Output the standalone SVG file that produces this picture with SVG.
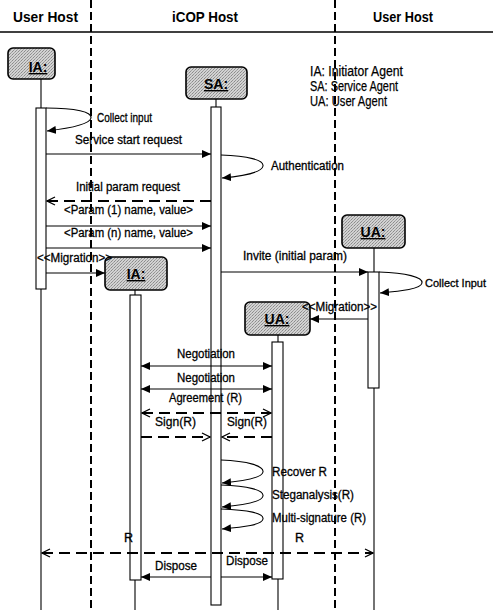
<svg xmlns="http://www.w3.org/2000/svg" width="493" height="610" viewBox="0 0 493 610">
<style>
text{font-family:"Liberation Sans",Arial,sans-serif;fill:#000}
.hd{font-size:15px;font-weight:bold}
.lg{font-size:14px;stroke:#000;stroke-width:0.25}
.m{font-size:12.5px;stroke:#000;stroke-width:0.3}
.bl{font-size:14px;font-weight:bold;text-decoration:underline;text-anchor:middle}
.box{fill:url(#ht);stroke:#000;stroke-width:1.6}
.act{fill:#fff;stroke:#000;stroke-width:1.1}
.life{stroke:#000;stroke-width:1.1;fill:none}
.lane{stroke:#000;stroke-width:2;stroke-dasharray:8 4;fill:none}
.msg{stroke:#000;stroke-width:1.1;fill:none;marker-end:url(#fa)}
.bi{stroke:#000;stroke-width:1.1;fill:none;marker-start:url(#fa);marker-end:url(#fa)}
.ret{stroke:#000;stroke-width:1.8;stroke-dasharray:11 6;fill:none;marker-end:url(#oa)}
.rbi{stroke:#000;stroke-width:1.8;stroke-dasharray:11 6;fill:none;marker-start:url(#oa);marker-end:url(#oa)}
.self{stroke:#000;stroke-width:1.1;fill:none;marker-end:url(#fa)}
</style>
<defs>
<pattern id="ht" width="3" height="3" patternUnits="userSpaceOnUse">
<rect width="3" height="3" fill="#d2d2d2"/>
<rect x="0" y="0" width="1" height="1" fill="#8a8a8a"/>
<rect x="2" y="1" width="1" height="1" fill="#a4a4a4"/>
<rect x="1" y="2" width="1" height="1" fill="#949494"/>
</pattern>
<marker id="fa" viewBox="0 0 9 8" refX="9" refY="4" markerWidth="9" markerHeight="8" markerUnits="userSpaceOnUse" orient="auto-start-reverse">
<path d="M0,0 L9,4 L0,8 z" fill="#000"/>
</marker>
<marker id="oa" viewBox="0 0 10 10" refX="9" refY="5" markerWidth="10" markerHeight="10" markerUnits="userSpaceOnUse" orient="auto-start-reverse">
<path d="M1,1 L9,5 L1,9" fill="none" stroke="#000" stroke-width="1.3"/>
</marker>
</defs>
<rect width="493" height="610" fill="#fff"/>

<g id="header">
<line x1="0" y1="32" x2="493" y2="32" stroke="#000" stroke-width="1.6"/>
<line class="lane" x1="91" y1="0" x2="91" y2="610"/>
<line class="lane" x1="335" y1="0" x2="335" y2="610"/>
<text class="hd" x="13" y="22" textLength="65" lengthAdjust="spacingAndGlyphs">User Host</text>
<text class="hd" x="172" y="22" textLength="66" lengthAdjust="spacingAndGlyphs">iCOP Host</text>
<text class="hd" x="373" y="22" textLength="60" lengthAdjust="spacingAndGlyphs">User Host</text>
</g>

<g id="legend">
<text class="lg" x="310" y="76" textLength="93" lengthAdjust="spacingAndGlyphs">IA: Initiator Agent</text>
<text class="lg" x="310" y="91" textLength="88" lengthAdjust="spacingAndGlyphs">SA: Service Agent</text>
<text class="lg" x="310" y="106" textLength="77" lengthAdjust="spacingAndGlyphs">UA: User Agent</text>
</g>

<g id="IA1">
<rect class="box" x="8" y="48" width="47" height="31" rx="5"/>
<text class="bl" x="38" y="72">IA:</text>
<line class="life" x1="41" y1="79" x2="41" y2="108"/>
<rect class="act" x="36" y="108" width="10" height="181"/>
<line class="life" x1="41" y1="289" x2="41" y2="610"/>
</g>

<g id="SA">
<rect class="box" x="186" y="67" width="61" height="32" rx="5"/>
<text class="bl" x="216" y="89">SA:</text>
<line class="life" x1="216" y1="99" x2="216" y2="107"/>
<rect class="act" x="211" y="107" width="10" height="498"/>
</g>

<g id="UA1">
<rect class="box" x="342" y="215" width="63" height="33" rx="5"/>
<text class="bl" x="373" y="237">UA:</text>
<line class="life" x1="374" y1="248" x2="374" y2="272"/>
<rect class="act" x="368" y="272" width="11" height="116"/>
<line class="life" x1="374" y1="388" x2="374" y2="610"/>
</g>

<g id="IA2">
<rect class="box" x="105" y="257" width="62" height="33" rx="5"/>
<text class="bl" x="136" y="279">IA:</text>
<line class="life" x1="135" y1="290" x2="135" y2="295"/>
<rect class="act" x="130" y="295" width="11" height="285"/>
<line class="life" x1="135" y1="580" x2="135" y2="610"/>
</g>

<g id="UA2">
<rect class="box" x="245" y="302" width="65" height="33" rx="5"/>
<text class="bl" x="277" y="324">UA:</text>
<line class="life" x1="278" y1="335" x2="278" y2="342"/>
<rect class="act" x="272" y="342" width="11" height="237"/>
<line class="life" x1="278" y1="579" x2="278" y2="610"/>
</g>

<g id="connectors">
<path class="self" d="M46,108 C76,108 92,112 91,118 C90,124 72,128 47,131"/>
<line class="msg" x1="46" y1="154" x2="211" y2="154"/>
<path class="self" d="M221,155 C248,156 264,160 263,166 C262,172 244,176 222,178"/>
<line class="ret" x1="211" y1="201" x2="47" y2="201"/>
<line class="msg" x1="46" y1="226" x2="211" y2="226"/>
<line class="msg" x1="46" y1="248" x2="211" y2="248"/>
<line class="msg" x1="46" y1="273" x2="105" y2="273"/>
<line class="msg" x1="221" y1="272" x2="368" y2="272"/>
<path class="self" d="M379,272 C406,273 423,277 422,283 C421,289 402,291 380,293"/>
<line class="msg" x1="368" y1="319" x2="310" y2="319"/>
<line class="bi" x1="141" y1="366" x2="272" y2="366"/>
<line class="bi" x1="141" y1="389" x2="272" y2="389"/>
<line class="rbi" x1="142" y1="413" x2="271" y2="413"/>
<line class="ret" x1="141" y1="437" x2="210" y2="437"/>
<line class="ret" x1="272" y1="437" x2="222" y2="437"/>
<path class="self" d="M221,460 C248,461 264,466 263,472 C262,478 244,481 222,483"/>
<path class="self" d="M221,485 C248,486 264,490 263,496 C262,502 244,505 222,507"/>
<path class="self" d="M221,509 C248,510 264,513 263,519 C262,525 244,527 222,529"/>
<line class="rbi" x1="42" y1="553" x2="373" y2="553"/>
<line class="msg" x1="211" y1="577" x2="141" y2="577"/>
<line class="msg" x1="221" y1="577" x2="272" y2="577"/>
</g>

<g id="labels">
<text class="m" x="97" y="122" textLength="55" lengthAdjust="spacingAndGlyphs">Collect input</text>
<text class="m" x="75" y="144" textLength="107" lengthAdjust="spacingAndGlyphs">Service start request</text>
<text class="m" x="271" y="170" textLength="73" lengthAdjust="spacingAndGlyphs">Authentication</text>
<text class="m" x="76" y="191" textLength="104" lengthAdjust="spacingAndGlyphs">Initial param request</text>
<text class="m" x="64" y="214" textLength="129" lengthAdjust="spacingAndGlyphs">&lt;Param (1) name, value&gt;</text>
<text class="m" x="64" y="237" textLength="129" lengthAdjust="spacingAndGlyphs">&lt;Param (n) name, value&gt;</text>
<text class="m" x="37" y="262" textLength="75" lengthAdjust="spacingAndGlyphs">&lt;&lt;Migration&gt;&gt;</text>
<text class="m" x="243" y="260" textLength="104" lengthAdjust="spacingAndGlyphs">Invite (initial param)</text>
<text class="m" x="425" y="287" style="font-size:11px" textLength="61" lengthAdjust="spacingAndGlyphs">Collect Input</text>
<text class="m" x="302" y="311" textLength="75" lengthAdjust="spacingAndGlyphs">&lt;&lt;Migration&gt;&gt;</text>
<text class="m" x="177" y="358" textLength="58" lengthAdjust="spacingAndGlyphs">Negotiation</text>
<text class="m" x="177" y="382" textLength="58" lengthAdjust="spacingAndGlyphs">Negotiation</text>
<text class="m" x="169" y="402" textLength="73" lengthAdjust="spacingAndGlyphs">Agreement (R)</text>
<text class="m" x="155" y="426" textLength="41" lengthAdjust="spacingAndGlyphs">Sign(R)</text>
<text class="m" x="227" y="426" textLength="40" lengthAdjust="spacingAndGlyphs">Sign(R)</text>
<text class="m" x="272" y="476" textLength="55" lengthAdjust="spacingAndGlyphs">Recover R</text>
<text class="m" x="272" y="499" textLength="82" lengthAdjust="spacingAndGlyphs">Steganalysis(R)</text>
<text class="m" x="272" y="522" textLength="94" lengthAdjust="spacingAndGlyphs">Multi-signature (R)</text>
<text class="m" x="124" y="542">R</text>
<text class="m" x="295" y="542">R</text>
<text class="m" x="155" y="570" textLength="42" lengthAdjust="spacingAndGlyphs">Dispose</text>
<text class="m" x="226" y="565" textLength="42" lengthAdjust="spacingAndGlyphs">Dispose</text>
</g>
</svg>
